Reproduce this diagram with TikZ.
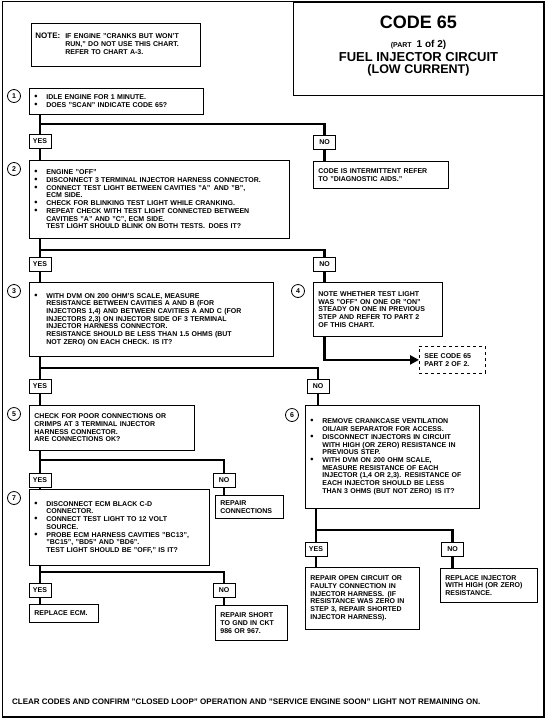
\documentclass[tikz,border=0pt]{standalone}
\usepackage{fontspec}
\usepackage{graphicx}
\setmainfont{Liberation Sans}
\usetikzlibrary{positioning, arrows.meta}

\tikzset{
  box/.style={draw, line width=0.8pt, anchor=north west, align=left, inner xsep=5pt, inner ysep=2pt, font=\bfseries\fontsize{7}{7.7}\selectfont},
  ans/.style={draw, line width=0.8pt, anchor=north, minimum width=22pt, minimum height=14pt, inner sep=0pt, font=\bfseries\fontsize{7}{7.7}\selectfont},
  num/.style={draw, circle, line width=0.8pt, minimum size=13pt, inner sep=0pt, font=\bfseries\fontsize{7}{7.7}\selectfont},
  flow/.style={line width=2.2pt},
}
\newcommand{\bul}{\makebox[12pt][l]{\raisebox{0pt}[0pt][0pt]{\scalebox{1.3}{\textbullet}}}}
\newcommand{\ind}{\hspace*{12pt}}

\begin{document}
\begin{tikzpicture}[x=1pt, y=-1pt]
    \path[use as bounding box, fill=white] (0,0) rectangle (552,721);
    \draw[line width=1.5pt] (2.5,1.5) rectangle (544,717);

    \node[draw, line width=1.2pt, anchor=north west, minimum width=251pt, minimum height=93pt] (ttl) at (293,1.5) {};
    \node[font=\bfseries\fontsize{18}{20}\selectfont] (ttl-code) at (418.5,22) {CODE 65};
    \node[font=\bfseries] (ttl-part) at (418.5,45) {{\fontsize{7}{8}\selectfont (PART}\enspace{\fontsize{10}{11}\selectfont 1 of 2)}};
    \node[font=\bfseries\fontsize{13}{14}\selectfont] (ttl-fuel) at (418.5,57.5) {FUEL INJECTOR CIRCUIT};
    \node[font=\bfseries\fontsize{12.5}{13}\selectfont] (ttl-low) at (418.5,70) {(LOW CURRENT)};

    \node[box, inner xsep=4pt, text width=161pt, minimum height=43pt] (note) at (31,23)
        {\begin{tabular}{@{}l@{\hspace{5pt}}l@{}}
         {\fontsize{8}{9}\selectfont NOTE:} & IF ENGINE "CRANKS BUT WON'T\\
         & RUN," DO NOT USE THIS CHART.\\
         & REFER TO CHART A-3.
         \end{tabular}};

    \node[box, text width=164pt, minimum height=26pt] (b1) at (29,88)
        {\bul IDLE ENGINE FOR 1 MINUTE.\\
         \bul DOES "SCAN" INDICATE CODE 65?};
    \node[num] (c1) at ([shift={(-15,8)}]b1.north west) {1};
    \node[ans] (yes1) at (40,134) {YES};
    \node[ans] (no1) at (324.5,135) {NO};
    \node[box, text width=125pt, minimum height=27pt] (int) at (313,161)
        {CODE IS INTERMITTENT REFER\\ TO "DIAGNOSTIC AIDS."};

    \node[box, text width=250pt, minimum height=78pt] (b2) at (29,160)
        {\bul ENGINE "OFF"\\
         \bul DISCONNECT 3 TERMINAL INJECTOR HARNESS CONNECTOR.\\
         \bul CONNECT TEST LIGHT BETWEEN CAVITIES "A"\enspace AND "B",\\
         \ind ECM SIDE.\\
         \bul CHECK FOR BLINKING TEST LIGHT WHILE CRANKING.\\
         \bul REPEAT CHECK WITH TEST LIGHT CONNECTED BETWEEN\\
         \ind CAVITIES "A" AND "C", ECM SIDE.\\
         \ind TEST LIGHT SHOULD BLINK ON BOTH TESTS.\enspace DOES IT?};
    \node[num] (c2) at ([shift={(-15,9)}]b2.north west) {2};
    \node[ans] (yes2) at (40,257) {YES};
    \node[ans] (no2) at (324.5,257) {NO};

    \node[box, text width=234pt, minimum height=74pt] (b3) at (29,282)
        {\bul WITH DVM ON 200 OHM'S SCALE, MEASURE\\
         \ind RESISTANCE BETWEEN CAVITIES A AND B (FOR\\
         \ind INJECTORS 1,4) AND BETWEEN CAVITIES A AND C (FOR\\
         \ind INJECTORS 2,3) ON INJECTOR SIDE OF 3 TERMINAL\\
         \ind INJECTOR HARNESS CONNECTOR.\\
         \ind RESISTANCE SHOULD BE LESS THAN 1.5 OHMS (BUT\\
         \ind NOT ZERO) ON EACH CHECK.\enspace IS IT?};
    \node[num] (c3) at ([shift={(-15,9)}]b3.north west) {3};
    \node[box, text width=119pt, minimum height=54pt] (b4) at (313,282)
        {NOTE WHETHER TEST LIGHT\\
         WAS "OFF" ON ONE OR "ON"\\
         STEADY ON ONE IN PREVIOUS\\
         STEP AND REFER TO PART 2\\
         OF THIS CHART.};
    \node[num] (c4) at ([shift={(-15,9)}]b4.north west) {4};
    \node[box, dashed, text width=56pt, minimum height=27pt] (see) at (419,346)
        {SEE CODE 65\\ PART 2 OF 2.};
    \node[ans] (yes3) at (40,379) {YES};
    \node[ans] (no3) at (318,379) {NO};

    \node[box, text width=155pt, minimum height=45pt] (b5) at (29,405)
        {CHECK FOR POOR CONNECTIONS OR\\
         CRIMPS AT 3 TERMINAL INJECTOR\\
         HARNESS CONNECTOR.\\
         ARE CONNECTIONS OK?};
    \node[num] (c5) at ([shift={(-15,9)}]b5.north west) {5};
    \node[box, text width=164pt, minimum height=103pt] (b6) at (305,405)
        {\bul REMOVE CRANKCASE VENTILATION\\
         \ind OIL/AIR SEPARATOR FOR ACCESS.\\
         \bul DISCONNECT INJECTORS IN CIRCUIT\\
         \ind WITH HIGH (OR ZERO) RESISTANCE IN\\
         \ind PREVIOUS STEP.\\
         \bul WITH DVM ON 200 OHM SCALE,\\
         \ind MEASURE RESISTANCE OF EACH\\
         \ind INJECTOR (1,4 OR 2,3).\enspace RESISTANCE OF\\
         \ind EACH INJECTOR SHOULD BE LESS\\
         \ind THAN 3 OHMS (BUT NOT ZERO)\enspace IS IT?};
    \node[num] (c6) at ([shift={(-13,10)}]b6.north west) {6};
    \node[ans] (yes5) at (40,473) {YES};
    \node[ans] (no5) at (224,473) {NO};
    \node[box, text width=58pt, minimum height=23pt] (rc) at (215,495)
        {REPAIR\\ CONNECTIONS};

    \node[box, text width=170pt, minimum height=76pt] (b7) at (29,489)
        {\bul DISCONNECT ECM BLACK C-D\\
         \ind CONNECTOR.\\
         \bul CONNECT TEST LIGHT TO 12 VOLT\\
         \ind SOURCE.\\
         \bul PROBE ECM HARNESS CAVITIES "BC13",\\
         \ind "BC15", "BD5" AND "BD6".\\
         \ind TEST LIGHT SHOULD BE "OFF," IS IT?};
    \node[num] (c7) at ([shift={(-15,9)}]b7.north west) {7};
    \node[ans] (yes7) at (40,583) {YES};
    \node[ans] (no7) at (224,583) {NO};
    \node[box, text width=59pt, minimum height=18pt] (ecm) at (29,604) {REPLACE ECM.};
    \node[box, text width=62pt, minimum height=35pt] (rs) at (215,605)
        {REPAIR SHORT\\ TO GND IN CKT\\ 986 OR 967.};

    \node[ans] (yes6) at (316,542) {YES};
    \node[ans] (no6) at (452.5,542) {NO};
    \node[box, text width=104pt, minimum height=62pt] (ro) at (305,567)
        {REPAIR OPEN CIRCUIT OR\\
         FAULTY CONNECTION IN\\
         INJECTOR HARNESS.\enspace (IF\\
         RESISTANCE WAS ZERO IN\\
         STEP 3, REPAIR SHORTED\\
         INJECTOR HARNESS).};
    \node[box, text width=87pt, minimum height=34pt] (ri) at (440,568)
        {REPLACE INJECTOR\\ WITH HIGH (OR ZERO)\\ RESISTANCE.};

    \node[anchor=west, inner sep=0pt, font=\bfseries\fontsize{8}{9}\selectfont] (clr) at (12,702)
        {CLEAR CODES AND CONFIRM "CLOSED LOOP" OPERATION AND "SERVICE ENGINE SOON" LIGHT NOT REMAINING ON.};

    \coordinate (j1) at (40,124);
    \coordinate (j2) at (40,250);
    \coordinate (j3) at (40,368);
    \coordinate (j5) at (40,460);
    \coordinate (j7) at (40,572);
    \coordinate (j6) at (316,530);

    \draw[flow] (b1.south -| yes1.north) -- (yes1.north);
    \draw[flow] (j1) -| (no1.north);
    \draw[flow] (no1.south) -- (no1.south |- int.north);
    \draw[flow] (yes1.south) -- (yes1.south |- b2.north);
    \draw[flow] (b2.south -| yes2.north) -- (yes2.north);
    \draw[flow] (j2) -| (no2.north);
    \draw[flow] (no2.south) -- (no2.south |- b4.north);
    \draw[flow] (yes2.south) -- (yes2.south |- b3.north);
    \draw[flow, -{Triangle[length=9pt, width=9pt]}] (b4.south -| no2.south) |- (see.west);
    \draw[flow] (b3.south -| yes3.north) -- (yes3.north);
    \draw[flow] (j3) -| (no3.north);
    \draw[flow] (no3.south) -- (no3.south |- b6.north);
    \draw[flow] (yes3.south) -- (yes3.south |- b5.north);
    \draw[flow] (b5.south -| yes5.north) -- (yes5.north);
    \draw[flow] (j5) -| (no5.north);
    \draw[flow] (no5.south) -- (no5.south |- rc.north);
    \draw[flow] (yes5.south) -- (yes5.south |- b7.north);
    \draw[flow] (b7.south -| yes7.north) -- (yes7.north);
    \draw[flow] (j7) -| (no7.north);
    \draw[flow] (no7.south) -- (no7.south |- rs.north);
    \draw[flow] (yes7.south) -- (yes7.south |- ecm.north);
    \draw[flow] (b6.south -| yes6.north) -- (yes6.north);
    \draw[flow] (j6) -| (no6.north);
    \draw[flow] (yes6.south) -- (yes6.south |- ro.north);
    \draw[flow] (no6.south) -- (no6.south |- ri.north);
\end{tikzpicture}
\end{document}
